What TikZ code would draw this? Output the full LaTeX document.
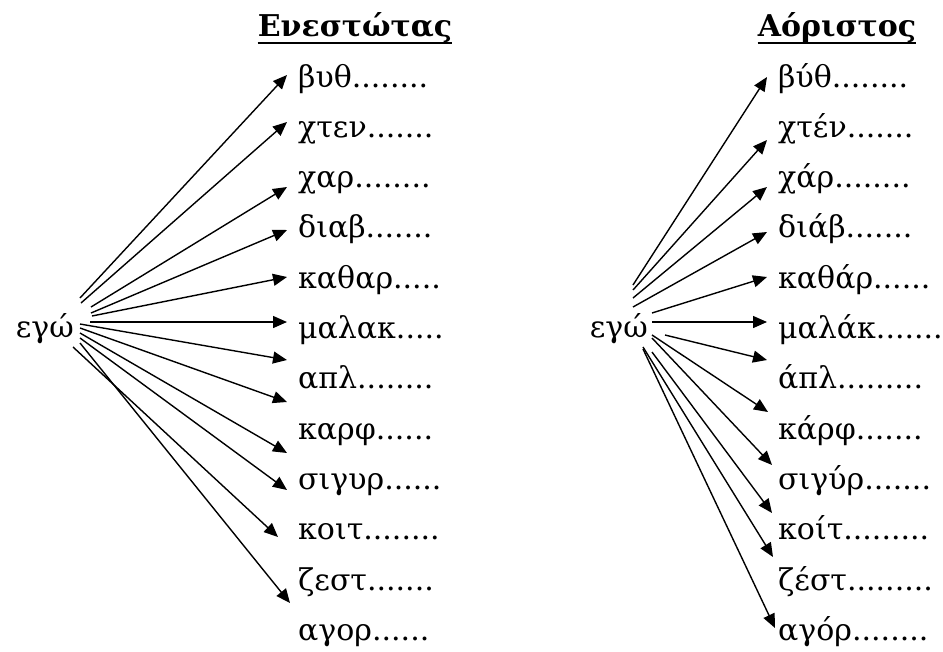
\documentclass[tikz,border=0pt]{standalone}
\usepackage{fontspec}
\setmainfont{DejaVu Serif}
\usetikzlibrary{arrows.meta}
\begin{document}
\begin{tikzpicture}[x=1pt,y=-1pt,
        word/.style={anchor=base west,inner xsep=11pt,inner ysep=0pt,font=\fontsize{30}{36}\selectfont},
        ego/.style={anchor=base east,inner sep=0pt,font=\fontsize{30}{36}\selectfont},
        head/.style={anchor=base,inner sep=0pt,font=\fontsize{30}{36}\selectfont\bfseries},
        arr/.style={-{Triangle[length=14pt,width=12pt]},line width=1.4pt}]
        \useasboundingbox (0,0) rectangle (943,651);
        \pgfmathsetmacro{\rowgap}{50.3}
        \pgfmathsetmacro{\xwordL}{287}
        \pgfmathsetmacro{\xwordR}{767}
        
        % Ενεστώτας
        \node[head] (headL) at (355,36) {Ενεστώτας};
        \draw[line width=1.8pt] ([yshift=-7]headL.base west) -- ([yshift=-7]headL.base east);
        \node[ego] (egoL) at (74,337) {εγώ};
        \node[word] (wL1) at (\xwordL,87) {βυθ........}; \node[word] (wL2) at (\xwordL,87+\rowgap) {χτεν.......};
        \node[word] (wL3) at (\xwordL,87+2*\rowgap) {χαρ........}; \node[word] (wL4) at (\xwordL,87+3*\rowgap) {διαβ.......};
        \node[word] (wL5) at (\xwordL,87+4*\rowgap) {καθαρ.....}; \node[word] (wL6) at (\xwordL,87+5*\rowgap) {μαλακ.....};
        \node[word] (wL7) at (\xwordL,87+6*\rowgap) {απλ........}; \node[word] (wL8) at (\xwordL,87+7*\rowgap) {καρφ......};
        \node[word] (wL9) at (\xwordL,87+8*\rowgap) {σιγυρ......}; \node[word] (wL10) at (\xwordL,87+9*\rowgap) {κοιτ........};
        \node[word] (wL11) at (\xwordL,87+10*\rowgap) {ζεστ.......}; \node[word] (wL12) at (\xwordL,87+11*\rowgap) {αγορ......};
        
        \draw[arr] ([xshift=6,yshift=39]egoL.base east) -- ([yshift=12]wL1.base west);
        \draw[arr] ([xshift=7,yshift=34]egoL.base east) -- ([yshift=15.3]wL2.base west);
        \draw[arr] ([xshift=17,yshift=30]egoL.base east) -- ([yshift=0.6]wL3.base west);
        \draw[arr] ([xshift=17,yshift=24]egoL.base east) -- ([yshift=7.9]wL4.base west);
        \draw[arr] ([xshift=18,yshift=21]egoL.base east) -- ([yshift=11.2]wL5.base west);
        \draw[arr] ([xshift=16,yshift=15]egoL.base east) -- ([yshift=16.5]wL6.base west);
        \draw[arr] ([xshift=6,yshift=13]egoL.base east) -- ([yshift=28.8]wL7.base west);
        \draw[arr] ([xshift=6,yshift=9]egoL.base east) -- ([yshift=37.1]wL8.base west);
        \draw[arr] ([xshift=6,yshift=4]egoL.base east) -- ([yshift=36.4]wL9.base west);
        \draw[arr] ([xshift=6,yshift=-1]egoL.base east) -- ([yshift=49.7]wL10.base west);
        \draw[arr] ([xshift=-1,yshift=-10]egoL.base east) -- ([xshift=-9,yshift=53]wL11.base west);
        \draw[arr] ([xshift=6,yshift=-6]egoL.base east) -- ([xshift=3,yshift=37.3]wL12.base west);
        
        % Αόριστος
        \node[head] (headR) at (837,36) {Αόριστος};
        \draw[line width=1.8pt] ([yshift=-7]headR.base west) -- ([yshift=-7]headR.base east);
        \node[ego] (egoR) at (648,337) {εγώ};
        \node[word] (wR1) at (\xwordR,87) {βύθ........}; \node[word] (wR2) at (\xwordR,87+\rowgap) {χτέν.......};
        \node[word] (wR3) at (\xwordR,87+2*\rowgap) {χάρ........}; \node[word] (wR4) at (\xwordR,87+3*\rowgap) {διάβ.......};
        \node[word] (wR5) at (\xwordR,87+4*\rowgap) {καθάρ......}; \node[word] (wR6) at (\xwordR,87+5*\rowgap) {μαλάκ.......};
        \node[word] (wR7) at (\xwordR,87+6*\rowgap) {άπλ.........}; \node[word] (wR8) at (\xwordR,87+7*\rowgap) {κάρφ.......};
        \node[word] (wR9) at (\xwordR,87+8*\rowgap) {σιγύρ.......}; \node[word] (wR10) at (\xwordR,87+9*\rowgap) {κοίτ.........};
        \node[word] (wR11) at (\xwordR,87+10*\rowgap) {ζέστ.........}; \node[word] (wR12) at (\xwordR,87+11*\rowgap) {αγόρ........};
        
        \draw[arr] ([xshift=-15,yshift=52]egoR.base east) -- ([yshift=10]wR1.base west);
        \draw[arr] ([xshift=-15,yshift=47]egoR.base east) -- ([yshift=-2.7]wR2.base west);
        \draw[arr] ([xshift=-15,yshift=39]egoR.base east) -- ([yshift=0.6]wR3.base west);
        \draw[arr] ([xshift=-15,yshift=30]egoR.base east) -- ([yshift=5.9]wR4.base west);
        \draw[arr] ([xshift=4,yshift=24]egoR.base east) -- ([yshift=11.2]wR5.base west);
        \draw[arr] ([xshift=4,yshift=15]egoR.base east) -- ([yshift=16.5]wR6.base west);
        \draw[arr] ([xshift=17,yshift=2]egoR.base east) -- ([yshift=28.8]wR7.base west);
        \draw[arr] ([xshift=4,yshift=2]egoR.base east) -- ([xshift=1,yshift=27.1]wR8.base west);
        \draw[arr] ([xshift=4,yshift=-1]egoR.base east) -- ([xshift=5,yshift=24.4]wR9.base west);
        \draw[arr] ([xshift=4,yshift=-15]egoR.base east) -- ([xshift=5,yshift=26.7]wR10.base west);
        \draw[arr] ([xshift=-5,yshift=-10]egoR.base east) -- ([xshift=6,yshift=33]wR11.base west);
        \draw[arr] ([xshift=-5,yshift=-12]egoR.base east) -- ([xshift=8,yshift=12.3]wR12.base west);
        
    \end{tikzpicture}
\end{document}
